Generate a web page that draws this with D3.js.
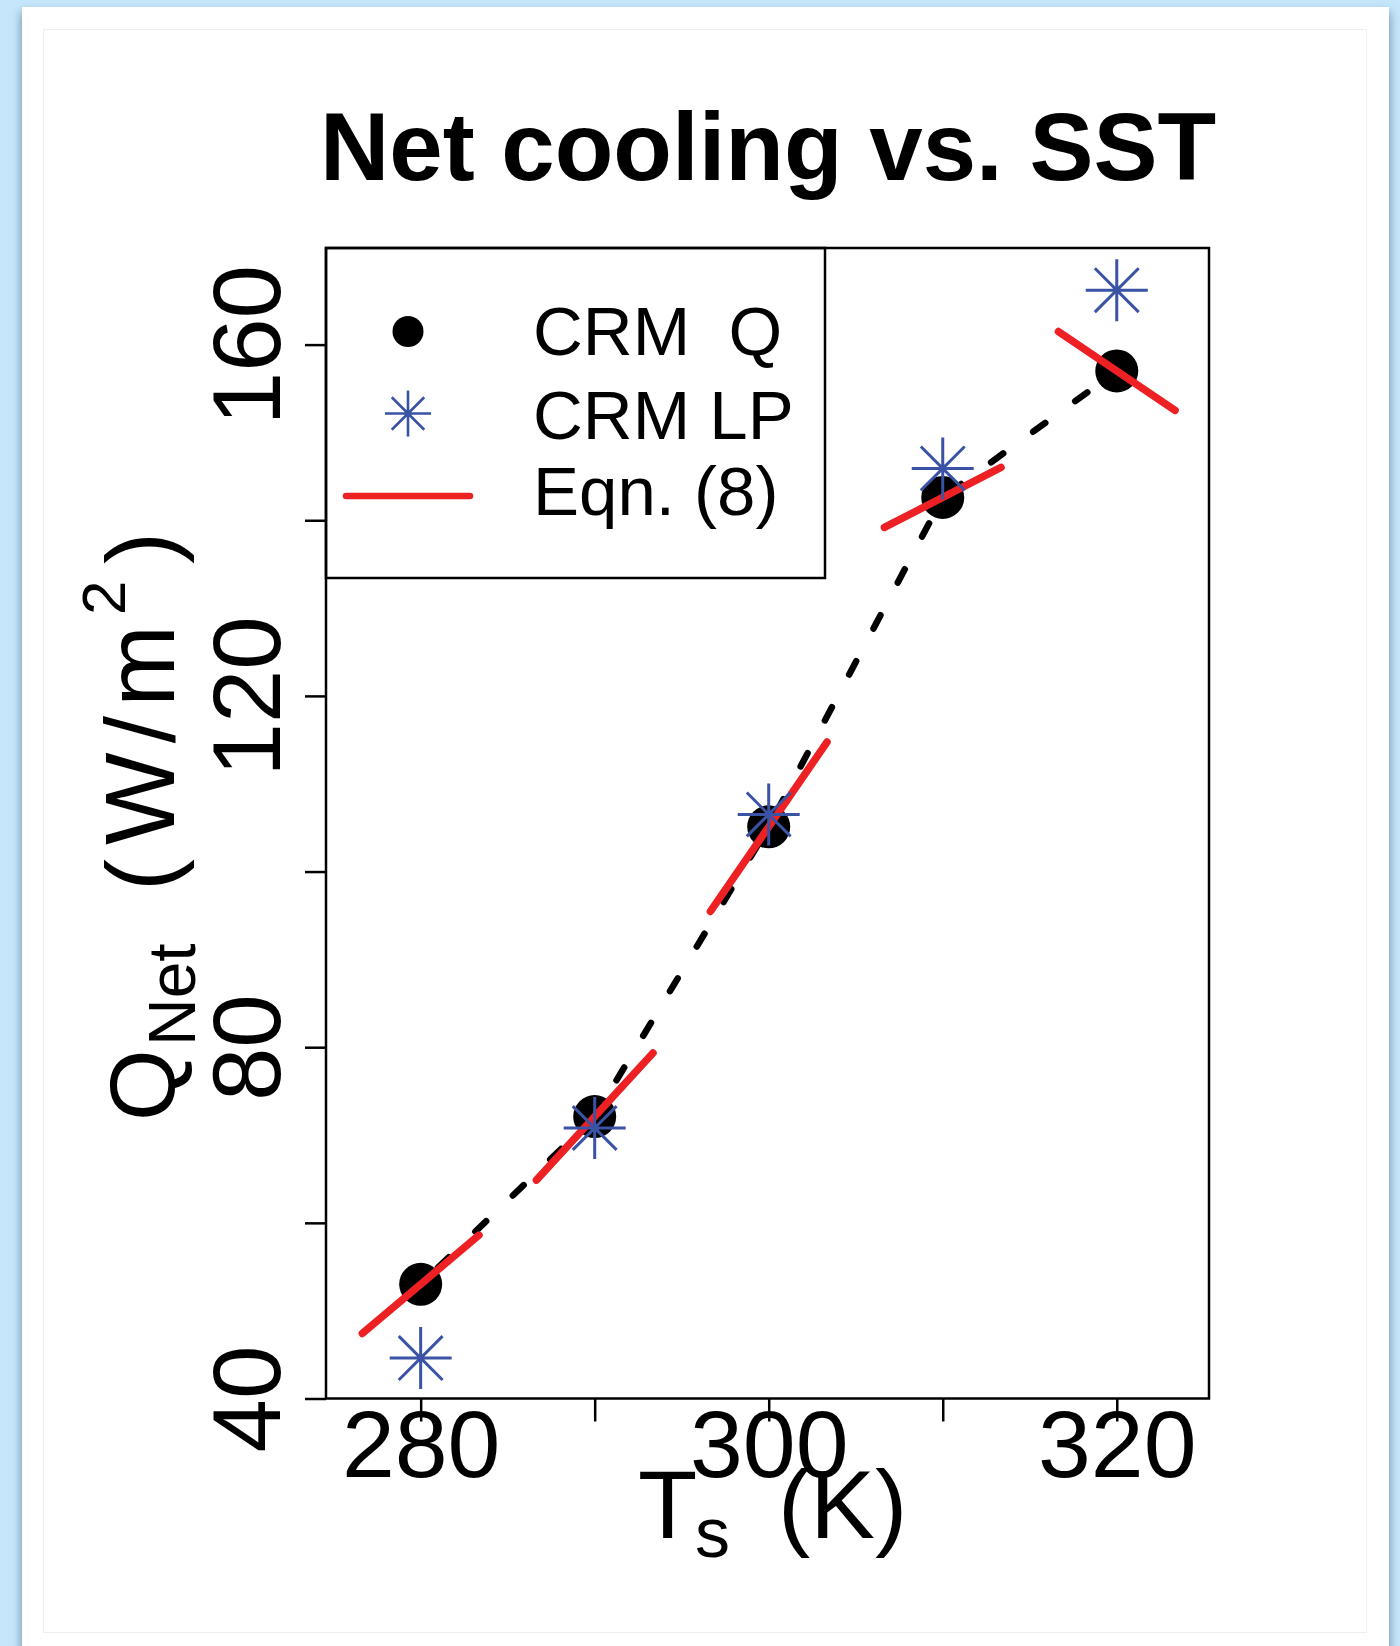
<!DOCTYPE html>
<html>
<head>
<meta charset="utf-8">
<script src="https://cdn.jsdelivr.net/npm/d3@7"></script>
<style>
  html, body { margin: 0; padding: 0; }
  body { width: 1400px; height: 1646px; background: #c6e7fb; position: relative; overflow: hidden; }
  #card { position: absolute; left: 22px; top: 7px; width: 1367px; height: 1700px; background: #ffffff;
          box-shadow: 0 6px 9px 1px rgba(40, 75, 105, 0.5); }
  svg { position: absolute; left: 0; top: 0; }
  text { font-family: "Liberation Sans", Arial, Helvetica, sans-serif; fill: #000; }
</style>
</head>
<body>
<div id="card"></div>
<svg id="chart" width="1400" height="1646"></svg>
<script>
// ---- data ----
const sst = [280, 290, 300, 310, 320];                 // surface temperature (K)
const crmQ = [53.0, 72.1, 105.1, 142.6, 157.0];        // CRM Q (W/m^2)
const crmLP = [44.6, 70.8, 106.5, 145.9, 166.2];       // CRM LP (W/m^2)
const eqn8Slope = [1.67, 2.16, 2.88, 1.02, -1.34];     // Eqn. (8) slope dQ/dTs (W/m^2/K)
const xTicks = [280, 290, 300, 310, 320];
const xTickLabels = ["280", "", "300", "", "320"];
const yTicks = [40, 60, 80, 100, 120, 140, 160];
const yTickLabels = ["40", "", "80", "", "120", "", "160"];
const legendLabels = ["CRM  Q", "CRM LP", "Eqn. (8)"];
const titleText = "Net cooling vs. SST";

const RED = "#ed2024", BLUE = "#3a53a4";
const svg = d3.select("#chart");

// faint inner frame of the card
svg.append("rect").attr("x", 43.5).attr("y", 29.5).attr("width", 1323).attr("height", 1603)
  .attr("fill", "none").attr("stroke", "#efefef").attr("stroke-width", 1);

const L = 326, R = 1209, T = 248, B = 1398.5;
const x = d3.scaleLinear().domain([274.56, 325.3]).range([L, R]);
const y = d3.scaleLinear().domain([40, 171]).range([B, T]);

// title
svg.append("text").attr("x", 768).attr("y", 180).attr("text-anchor", "middle")
  .attr("font-size", 96).attr("font-weight", "bold").text(titleText);

// axes
const xAxis = svg.append("g").attr("transform", `translate(0,${B})`)
  .call(d3.axisBottom(x).tickValues(xTicks).tickSize(23).tickSizeOuter(0)
        .tickFormat((d, i) => xTickLabels[i]));
xAxis.select(".domain").remove();
xAxis.selectAll(".tick line").attr("stroke", "#000").attr("stroke-width", 2.5);
xAxis.selectAll(".tick text").attr("y", 78.5).attr("dy", 0).attr("font-size", 95)
  .attr("font-family", "Liberation Sans, Arial, sans-serif").attr("fill", "#000");

const yAxis = svg.append("g").attr("transform", `translate(${L},0)`)
  .call(d3.axisLeft(y).tickValues(yTicks).tickSize(21).tickSizeOuter(0)
        .tickFormat((d, i) => yTickLabels[i]));
yAxis.select(".domain").remove();
yAxis.selectAll(".tick line").attr("stroke", "#000").attr("stroke-width", 2.5);
yAxis.selectAll(".tick text").attr("x", null).attr("dy", 0)
  .attr("transform", "translate(-46,0) rotate(-90)").attr("text-anchor", "middle")
  .attr("font-size", 96).attr("font-family", "Liberation Sans, Arial, sans-serif").attr("fill", "#000");

// plot box
svg.append("rect").attr("x", L).attr("y", T).attr("width", R - L).attr("height", B - T)
  .attr("fill", "none").attr("stroke", "#000").attr("stroke-width", 2.5);

// x axis title  T_s (K)
const xt = svg.append("g");
xt.append("text").attr("x", 638).attr("y", 1538).attr("font-size", 97).text("T");
xt.append("text").attr("x", 695).attr("y", 1557).attr("font-size", 70).text("s");
xt.append("text").attr("x", 778).attr("y", 1538).attr("font-size", 97).text("(K)");

// y axis title  Q_Net ( W/m^2 )
const yt = svg.append("g").attr("transform", "rotate(-90)");
yt.append("text").attr("x", -1121).attr("y", 174).attr("font-size", 92).text("Q");
yt.append("text").attr("x", -1046).attr("y", 195).attr("font-size", 66).text("Net");
yt.append("text").attr("x", -891).attr("y", 174).attr("font-size", 96).text("(");
yt.append("text").attr("x", -845).attr("y", 174).attr("font-size", 98)
  .attr("textLength", 220).attr("lengthAdjust", "spacing").text("W/m");
yt.append("text").attr("x", -615).attr("y", 125).attr("font-size", 62).text("2");
yt.append("text").attr("x", -564).attr("y", 174).attr("font-size", 96).text(")");

// star (pch 8) path
function starPath(cx, cy, r) {
  const d = r / Math.SQRT2;
  return `M${cx - r},${cy}H${cx + r}M${cx},${cy - r}V${cy + r}` +
         `M${cx - d},${cy - d}L${cx + d},${cy + d}M${cx - d},${cy + d}L${cx + d},${cy - d}`;
}

const pts = sst.map((t, i) => ({ t, q: crmQ[i], lp: crmLP[i], s: eqn8Slope[i] }));

// dashed CRM Q line
svg.append("path").datum(pts)
  .attr("d", d3.line().x(d => x(d.t)).y(d => y(d.q)))
  .attr("fill", "none").attr("stroke", "#000").attr("stroke-width", 6.5)
  .attr("stroke-dasharray", "15 37").attr("stroke-dashoffset", 28).attr("stroke-linecap", "round");

// CRM Q dots
svg.selectAll("circle.q").data(pts).join("circle").attr("class", "q")
  .attr("cx", d => x(d.t)).attr("cy", d => y(d.q)).attr("r", 21.5).attr("fill", "#000");

// Eqn. (8) tangent segments
const h = 3.35;
svg.selectAll("line.eq").data(pts).join("line").attr("class", "eq")
  .attr("x1", d => x(d.t - h)).attr("y1", d => y(d.q - d.s * h))
  .attr("x2", d => x(d.t + h)).attr("y2", d => y(d.q + d.s * h))
  .attr("stroke", RED).attr("stroke-width", 7.5).attr("stroke-linecap", "round");

// CRM LP stars
svg.selectAll("path.lp").data(pts).join("path").attr("class", "lp")
  .attr("d", d => starPath(x(d.t), y(d.lp), 31))
  .attr("fill", "none").attr("stroke", BLUE).attr("stroke-width", 3);

// legend
svg.append("rect").attr("x", L).attr("y", T).attr("width", 825 - L).attr("height", 578 - T)
  .attr("fill", "none").attr("stroke", "#000").attr("stroke-width", 2.5);
svg.append("circle").attr("cx", 408).attr("cy", 331.5).attr("r", 15.5).attr("fill", "#000");
svg.append("path").attr("d", starPath(408, 413.5, 23)).attr("fill", "none")
  .attr("stroke", BLUE).attr("stroke-width", 2.6);
svg.append("line").attr("x1", 346).attr("x2", 470).attr("y1", 496).attr("y2", 496)
  .attr("stroke", RED).attr("stroke-width", 6.5).attr("stroke-linecap", "round");
const legY = [355, 439, 515];
svg.selectAll("text.leg").data(legendLabels).join("text").attr("class", "leg")
  .attr("x", 533).attr("y", (d, i) => legY[i]).attr("font-size", 69)
  .attr("xml:space", "preserve").style("white-space", "pre").text(d => d);
</script>
</body>
</html>
